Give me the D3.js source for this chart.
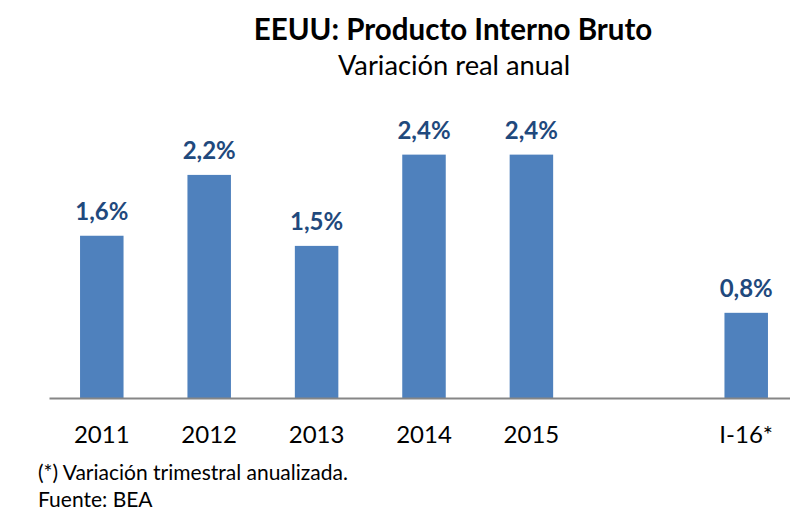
<!DOCTYPE html>
<html>
<head>
<meta charset="utf-8">
<script src="https://cdn.jsdelivr.net/npm/d3@7"></script>
<style>
  body { margin: 0; background: #fff; }
  text { font-family: Lato, "Open Sans", sans-serif; }
</style>
</head>
<body>
<div id="chart"></div>
<script>
// Data
const categories = ["2011", "2012", "2013", "2014", "2015", "", "I-16*"];
const values = [1.6, 2.2, 1.5, 2.4, 2.4, null, 0.84];
const valueLabels = ["1,6%", "2,2%", "1,5%", "2,4%", "2,4%", "", "0,8%"];

const W = 790, H = 510;
const margin = {top: 110, right: 0, bottom: 112, left: 49};
const width = 750;
const height = H - margin.top - margin.bottom;

const svg = d3.select("#chart")
  .append("svg")
    .attr("width", W)
    .attr("height", H);

// Titles
svg.append("text")
  .attr("x", 453).attr("y", 40)
  .attr("text-anchor", "middle")
  .style("font-size", "29.5px")
  .style("font-weight", "bold")
  .text("EEUU: Producto Interno Bruto");
svg.append("text")
  .attr("x", 454).attr("y", 75)
  .attr("text-anchor", "middle")
  .style("font-size", "27.3px")
  .text("Variación real anual");

const g = svg.append("g")
  .attr("transform", "translate(" + margin.left + "," + margin.top + ")");

const x = d3.scaleBand()
  .domain(categories.map((c, i) => i))
  .range([0, width])
  .paddingInner(0.595)
  .paddingOuter(0.289);

const y = d3.scaleLinear()
  .domain([0, 2.84])
  .range([height, 0]);

// Bars
const data = categories.map((c, i) => ({c, v: values[i], label: valueLabels[i], i}))
  .filter(d => d.v !== null);

g.selectAll("rect.bar")
  .data(data)
  .enter()
  .append("rect")
    .attr("class", "bar")
    .attr("x", d => x(d.i))
    .attr("y", d => y(d.v))
    .attr("width", x.bandwidth())
    .attr("height", d => height - y(d.v))
    .style("fill", "#4F81BD");

// Value labels
g.selectAll("text.val")
  .data(data)
  .enter()
  .append("text")
    .attr("class", "val")
    .attr("x", d => x(d.i) + x.bandwidth() / 2)
    .attr("y", d => y(d.v) - 16)
    .attr("text-anchor", "middle")
    .style("font-size", "24px")
    .style("font-weight", "bold")
    .style("fill", "#1F497D")
    .text(d => d.label);

// X axis
const xAxis = g.append("g")
  .attr("transform", "translate(0," + height + ")")
  .call(d3.axisBottom(x).tickSize(0).tickFormat(i => categories[i]));
xAxis.select(".domain").attr("stroke", "#868686").attr("stroke-width", 2);
xAxis.selectAll(".tick text")
  .attr("dy", 0)
  .attr("y", 45)
  .style("font-size", "24px")
  .style("fill", "#000")
  .style("font-family", "Lato, 'Open Sans', sans-serif");

// Footnotes
svg.append("text")
  .attr("x", 38).attr("y", 480)
  .style("font-size", "21px")
  .text("(*) Variación trimestral anualizada.");
svg.append("text")
  .attr("x", 38).attr("y", 507)
  .style("font-size", "21px")
  .text("Fuente: BEA");
</script>
</body>
</html>
